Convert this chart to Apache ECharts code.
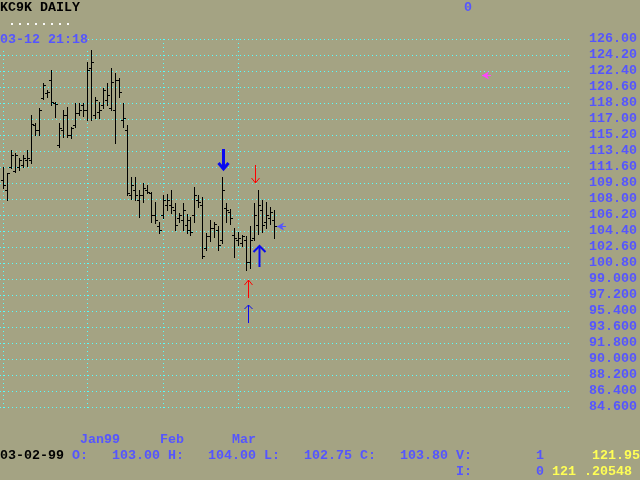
<!DOCTYPE html>
<html><head><meta charset="utf-8">
<script src="https://cdn.jsdelivr.net/npm/echarts@6/dist/echarts.min.js"></script>
<style>html,body{margin:0;padding:0;background:#a4a383;}#c{width:640px;height:480px;}</style>
</head><body><div id="c"></div>
<script>
// ---- data ----
var opens = [110.14,109.01,111.60,111.15,111.60,111.83,112.39,112.39,116.33,115.76,
119.36,119.93,121.39,118.80,114.08,115.76,117.45,115.20,116.33,117.68,
118.58,118.01,122.74,117.45,117.79,118.58,119.14,118.24,118.01,121.39,
116.89,115.76,108.45,109.01,107.89,108.45,109.01,108.68,106.20,104.96,
106.20,107.32,107.32,106.76,105.86,105.64,105.08,104.51,106.20,107.89,
107.32,102.49,103.84,104.74,104.51,103.39,106.99,106.54,103.95,103.39,
103.00,103.39,100.91,103.61,105.08,106.76,105.41,105.86,105.64];
var highs = [111.64,110.89,113.51,113.21,112.61,112.95,113.51,117.45,116.52,118.21,
121.09,120.26,122.51,118.95,116.52,118.01,118.39,116.14,118.77,118.77,
118.77,123.45,124.76,119.51,118.95,120.46,121.02,122.71,122.14,121.58,
118.77,116.33,110.51,110.51,109.01,109.80,109.57,108.82,107.70,105.45,
108.45,108.56,109.01,107.55,106.43,107.55,106.31,106.01,109.38,108.45,
108.26,104.18,105.64,105.41,104.96,110.51,107.55,106.87,104.71,104.29,
104.00,103.84,104.96,107.55,109.01,107.89,107.70,107.10,106.76];
var lows = [109.20,107.89,111.49,111.07,111.26,111.64,111.71,112.02,115.20,115.20,
119.22,119.51,118.58,117.26,113.89,115.01,115.01,114.83,116.07,117.45,
117.34,116.89,116.89,117.08,117.08,118.21,118.58,118.01,114.27,119.51,
116.14,108.45,107.97,107.89,106.01,107.70,108.68,105.45,105.27,104.14,
105.83,106.76,106.39,104.51,105.45,104.51,104.18,103.95,105.45,107.14,
101.33,102.26,103.28,103.76,102.26,103.05,105.45,105.19,101.51,102.83,
102.75,100.01,100.24,103.39,104.06,104.29,104.74,105.19,103.61];
var closes = [109.57,110.87,112.95,112.95,112.39,112.61,112.61,116.44,115.76,118.01,
120.83,120.04,118.95,118.69,115.99,117.45,115.20,115.99,117.68,118.01,
118.01,122.51,123.41,119.14,118.01,120.26,119.70,121.16,121.39,120.04,
117.11,108.68,109.57,108.45,108.45,109.24,108.79,106.20,105.64,104.51,
107.89,107.89,107.10,105.08,106.20,106.76,105.64,104.29,108.45,107.66,
101.59,103.84,104.74,105.19,102.83,109.01,106.76,105.86,103.61,103.61,
103.80,100.91,103.39,106.20,107.32,105.08,106.20,106.54,104.96];

var monthLabels = ['Jan99','Feb','Mar'];
var monthStartIdx = [21, 40, 59];
var extraGridIdx = [0];

// signal arrows: x position (bar units), tip price, direction (1 down, -1 up), kind
var signalX = [55.25, 63.25, 64.25, 61.5, 61.5];
var signalPrice = [111.38, 109.80, 102.71, 98.89, 96.08];
var signalDir = [1, 1, -1, -1, -1];
var signalKind = [0, 1, 2, 1, 3];

// pointers "<"
var pointerX = [68.5, 120.25];
var pointerPrice = [104.96, 121.95];
var pointerKind = [0, 1];

var yMin = 84.6, yMax = 126.0, yStep = 1.8;

var titleText = 'KC9K DAILY';
var topCounter = '0';
var timeText = '03-12 21:18';
var dotsText = '........';
var cursorDate = '03-02-99';
var ohlcNames = ['O:', 'H:', 'L:', 'C:'];
var ohlcValues = ['103.00', '104.00', '102.75', '103.80'];
var volLabel = 'V:', volValue = '1', volRight = '121.95';
var intLabel = 'I:', intValue = '0', intRight = '121 .20548';

// ---- styles ----
var BG = '#a4a383';
var BLUE = '#5555ff', YEL = '#ffff55', CYAN = '#55ffff';
var FONT = 'bold 13.33px "Liberation Mono", "DejaVu Sans Mono", monospace';
var ARROW_STYLES = [
  {color:'#0a0af0', len:20, hw:5, hh:6, lw:3},
  {color:'#ff0000', len:18, hw:4, hh:5, lw:1},
  {color:'#0a0af0', len:21, hw:6, hh:6, lw:2},
  {color:'#0a0af0', len:18, hw:4, hh:4, lw:1}
];
var POINTER_COLORS = ['#5555ff', '#ff44ff'];

var ohlcData = opens.map(function(o, i){ return [i, o, highs[i], lows[i], closes[i]]; });
var signalData = signalX.map(function(x, i){ return [x, signalPrice[i], signalDir[i], signalKind[i]]; });
var pointerData = pointerX.map(function(x, i){ return [x, pointerPrice[i], pointerKind[i]]; });
var vGridData = extraGridIdx.concat(monthStartIdx).map(function(v){ return [v, yMin]; });

function T(text, col, y, color){
  return {type:'text', x: col*8, y: y, z: 100,
    style:{text:text, fill:color, font:FONT, verticalAlign:'middle', align:'left'}};
}

var graphics = [
  {type:'rect', z:99, shape:{x:0, y:32, width:88, height:16}, style:{fill:BG}},
  T(titleText, 0, 8, '#000'),
  T(topCounter, 58, 8, BLUE),
  T(dotsText, 1, 22, '#ffffff'),
  T(timeText, 0, 40, BLUE),
  T(monthLabels[0], 10, 440, BLUE),
  T(monthLabels[1], 20, 440, BLUE),
  T(monthLabels[2], 29, 440, BLUE),
  T(cursorDate, 0, 456, '#000'),
  T(ohlcNames[0], 9, 456, BLUE), T(ohlcValues[0], 14, 456, BLUE),
  T(ohlcNames[1], 21, 456, BLUE), T(ohlcValues[1], 26, 456, BLUE),
  T(ohlcNames[2], 33, 456, BLUE), T(ohlcValues[2], 38, 456, BLUE),
  T(ohlcNames[3], 45, 456, BLUE), T(ohlcValues[3], 50, 456, BLUE),
  T(volLabel, 57, 456, BLUE), T(volValue, 67, 456, BLUE), T(volRight, 74, 456, YEL),
  T(intLabel, 57, 472, BLUE), T(intValue, 67, 472, BLUE), T(intRight, 69, 472, YEL)
];

var chart = echarts.init(document.getElementById('c'), null, {renderer:'canvas'});
chart.setOption({
  backgroundColor: BG,
  animation: false,
  grid: {left: 0, right: 68, top: 39, bottom: 73, containLabel: false},
  xAxis: {type:'value', min:-1, max:142, show:false},
  yAxis: {
    type:'value', position:'right', min:yMin, max:yMax, interval:yStep,
    axisLine:{show:false}, axisTick:{show:false},
    splitLine:{show:true, lineStyle:{color:CYAN, width:1, type:[1,3]}},
    axisLabel:{margin:20, color:BLUE, fontFamily:'"Liberation Mono", monospace', fontWeight:'bold', fontSize:13.33,
      formatter:function(v){ return v >= 99.9999 ? v.toFixed(2) : v.toFixed(3); }}
  },
  graphic: graphics,
  series: [
    {
      type:'custom', name:'vgrid', data: vGridData, encode:{x:0, y:1}, silent:true,
      renderItem: function(params, api){
        var v = api.value(0);
        var top = api.coord([v, yMax]), bot = api.coord([v, yMin]);
        var x = Math.floor(top[0]) + 0.5;
        return {type:'line', shape:{x1:x, y1:Math.round(top[1]), x2:x, y2:Math.round(bot[1]) + 1},
          style:{stroke:CYAN, lineWidth:1, lineDash:[1,3]}};
      },
      z: 1
    },
    {
      type:'custom', name:'ohlc', data: ohlcData, encode:{x:0, y:[1,2,3,4]},
      renderItem: function(params, api){
        var i = api.value(0);
        var pO = api.coord([i, api.value(1)]);
        var pH = api.coord([i, api.value(2)]);
        var pL = api.coord([i, api.value(3)]);
        var pC = api.coord([i, api.value(4)]);
        var x = Math.floor(pH[0]) + 0.5;
        var yo = Math.round(pO[1]) + 0.5, yc = Math.round(pC[1]) + 0.5;
        var st = {stroke:'#000', lineWidth:1};
        return {type:'group', children:[
          {type:'line', shape:{x1:x, y1:Math.round(pH[1]), x2:x, y2:Math.round(pL[1]) + 1}, style:st},
          {type:'line', shape:{x1:x - 2.5, y1:yo, x2:x, y2:yo}, style:st},
          {type:'line', shape:{x1:x, y1:yc, x2:x + 2.5, y2:yc}, style:st}
        ]};
      },
      z: 5
    },
    {
      type:'custom', name:'signals', data: signalData, encode:{x:0, y:1},
      renderItem: function(params, api){
        var p = api.coord([api.value(0), api.value(1)]);
        var d = api.value(2);
        var s = ARROW_STYLES[api.value(3)];
        var tx = Math.floor(p[0]) + 0.5, ty = Math.round(p[1]);
        return {type:'group', children:[
          {type:'line', shape:{x1:tx, y1:ty - d*s.len, x2:tx, y2:ty}, style:{stroke:s.color, lineWidth:s.lw}},
          {type:'polyline', shape:{points:[[tx - s.hw, ty - d*s.hh],[tx, ty],[tx + s.hw, ty - d*s.hh]]},
            style:{stroke:s.color, lineWidth:s.lw, fill:null}}
        ]};
      },
      z: 6
    },
    {
      type:'custom', name:'pointers', data: pointerData, encode:{x:0, y:1},
      renderItem: function(params, api){
        var p = api.coord([api.value(0), api.value(1)]);
        var c = POINTER_COLORS[api.value(2)];
        var tx = Math.round(p[0]), ty = Math.round(p[1]) + 0.5;
        return {type:'group', children:[
          {type:'polygon', shape:{points:[[tx, ty],[tx + 7, ty - 4],[tx + 5, ty],[tx + 7, ty + 4]]}, style:{fill:c}},
          {type:'line', shape:{x1:tx, y1:ty, x2:tx + 9, y2:ty}, style:{stroke:c, lineWidth:1}}
        ]};
      },
      z: 6
    }
  ]
});
</script>
</body></html>
